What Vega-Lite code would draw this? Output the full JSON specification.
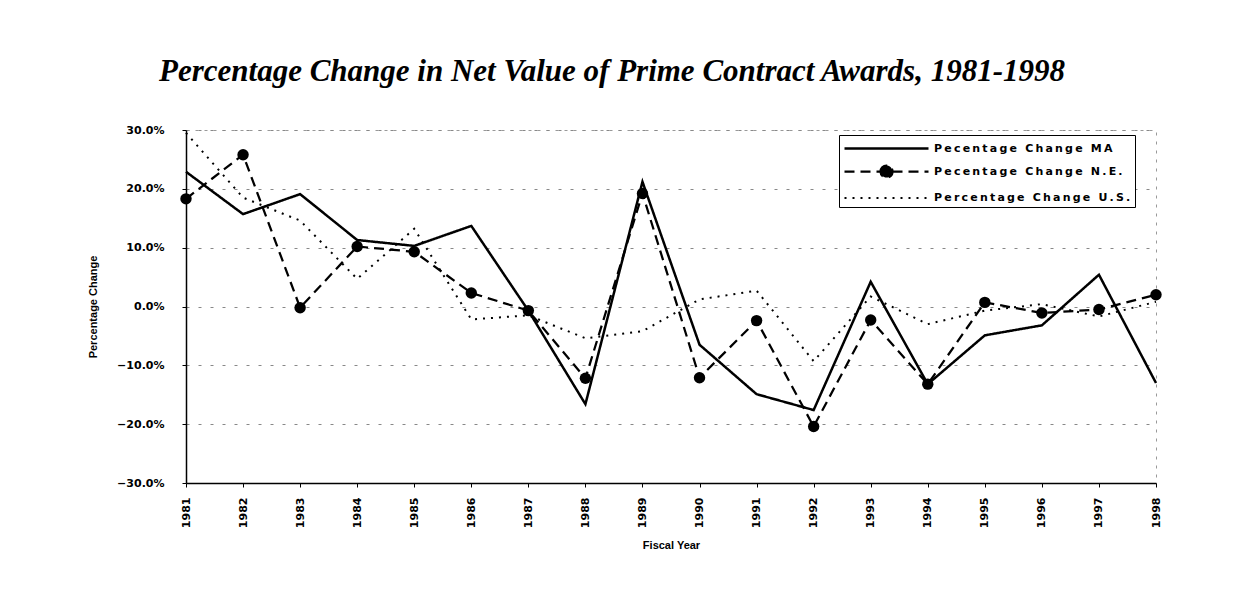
{
  "$schema": "https://vega.github.io/schema/vega-lite/v6.json",
  "width": 970,
  "height": 353,
  "autosize": {"type": "none"},
  "padding": {"left": 186, "top": 130, "right": 82, "bottom": 111},
  "background": "white",
  "title": {
    "text": "Percentage Change in Net Value of Prime Contract Awards, 1981-1998",
    "font": "Liberation Serif",
    "fontSize": 31,
    "fontWeight": "bold",
    "fontStyle": "italic",
    "color": "black",
    "anchor": "middle",
    "frame": "group",
    "dx": -59,
    "offset": 36
  },
  "config": {
    "view": {"stroke": "#999999", "strokeDash": [3, 6], "strokeWidth": 1},
    "axis": {
      "domainColor": "black",
      "domainWidth": 1.5,
      "tickColor": "black",
      "labelColor": "black",
      "titleColor": "black",
      "labelFont": "DejaVu Sans",
      "labelFontWeight": "bold",
      "labelFontSize": 11,
      "titleFont": "Liberation Sans",
      "titleFontWeight": "bold",
      "titleFontSize": 11
    }
  },
  "data": {
    "values": [
      {"year": 1981, "series": "Pecentage Change MA", "value": 22.9},
      {"year": 1982, "series": "Pecentage Change MA", "value": 15.7},
      {"year": 1983, "series": "Pecentage Change MA", "value": 19.1},
      {"year": 1984, "series": "Pecentage Change MA", "value": 11.3},
      {"year": 1985, "series": "Pecentage Change MA", "value": 10.3},
      {"year": 1986, "series": "Pecentage Change MA", "value": 13.7},
      {"year": 1987, "series": "Pecentage Change MA", "value": -0.7},
      {"year": 1988, "series": "Pecentage Change MA", "value": -16.6},
      {"year": 1989, "series": "Pecentage Change MA", "value": 21.2},
      {"year": 1990, "series": "Pecentage Change MA", "value": -6.5},
      {"year": 1991, "series": "Pecentage Change MA", "value": -14.9},
      {"year": 1992, "series": "Pecentage Change MA", "value": -17.6},
      {"year": 1993, "series": "Pecentage Change MA", "value": 4.2},
      {"year": 1994, "series": "Pecentage Change MA", "value": -13.2},
      {"year": 1995, "series": "Pecentage Change MA", "value": -4.9},
      {"year": 1996, "series": "Pecentage Change MA", "value": -3.2},
      {"year": 1997, "series": "Pecentage Change MA", "value": 5.4},
      {"year": 1998, "series": "Pecentage Change MA", "value": -13.0},
      {"year": 1981, "series": "Pecentage Change N.E.", "value": 18.3},
      {"year": 1982, "series": "Pecentage Change N.E.", "value": 25.8},
      {"year": 1983, "series": "Pecentage Change N.E.", "value": -0.2},
      {"year": 1984, "series": "Pecentage Change N.E.", "value": 10.2},
      {"year": 1985, "series": "Pecentage Change N.E.", "value": 9.3},
      {"year": 1986, "series": "Pecentage Change N.E.", "value": 2.3},
      {"year": 1987, "series": "Pecentage Change N.E.", "value": -0.7},
      {"year": 1988, "series": "Pecentage Change N.E.", "value": -12.2},
      {"year": 1989, "series": "Pecentage Change N.E.", "value": 19.2},
      {"year": 1990, "series": "Pecentage Change N.E.", "value": -12.1},
      {"year": 1991, "series": "Pecentage Change N.E.", "value": -2.4},
      {"year": 1992, "series": "Pecentage Change N.E.", "value": -20.4},
      {"year": 1993, "series": "Pecentage Change N.E.", "value": -2.3},
      {"year": 1994, "series": "Pecentage Change N.E.", "value": -13.2},
      {"year": 1995, "series": "Pecentage Change N.E.", "value": 0.7},
      {"year": 1996, "series": "Pecentage Change N.E.", "value": -1.1},
      {"year": 1997, "series": "Pecentage Change N.E.", "value": -0.5},
      {"year": 1998, "series": "Pecentage Change N.E.", "value": 2.0},
      {"year": 1981, "series": "Percentage Change U.S.", "value": 29.5},
      {"year": 1982, "series": "Percentage Change U.S.", "value": 18.5},
      {"year": 1983, "series": "Percentage Change U.S.", "value": 14.6},
      {"year": 1984, "series": "Percentage Change U.S.", "value": 4.7},
      {"year": 1985, "series": "Percentage Change U.S.", "value": 13.2},
      {"year": 1986, "series": "Percentage Change U.S.", "value": -2.2},
      {"year": 1987, "series": "Percentage Change U.S.", "value": -1.5},
      {"year": 1988, "series": "Percentage Change U.S.", "value": -5.4},
      {"year": 1989, "series": "Percentage Change U.S.", "value": -4.2},
      {"year": 1990, "series": "Percentage Change U.S.", "value": 1.2},
      {"year": 1991, "series": "Percentage Change U.S.", "value": 2.7},
      {"year": 1992, "series": "Percentage Change U.S.", "value": -9.3},
      {"year": 1993, "series": "Percentage Change U.S.", "value": 1.7},
      {"year": 1994, "series": "Percentage Change U.S.", "value": -3.0},
      {"year": 1995, "series": "Percentage Change U.S.", "value": -0.7},
      {"year": 1996, "series": "Percentage Change U.S.", "value": 0.4},
      {"year": 1997, "series": "Percentage Change U.S.", "value": -1.7},
      {"year": 1998, "series": "Percentage Change U.S.", "value": 0.8}
    ]
  },
  "encoding": {
    "x": {
      "field": "year",
      "type": "quantitative",
      "scale": {"domain": [1981, 1998], "nice": false, "zero": false},
      "axis": {
        "title": "Fiscal Year",
        "values": [1981, 1982, 1983, 1984, 1985, 1986, 1987, 1988, 1989, 1990, 1991, 1992, 1993, 1994, 1995, 1996, 1997, 1998],
        "format": "d",
        "labelAngle": -90,
        "labelAlign": "right",
        "labelBaseline": "middle",
        "labelPadding": 10,
        "tickSize": 4,
        "grid": false,
        "labelFlush": false,
        "labelOverlap": false,
        "titlePadding": 12
      }
    },
    "y": {
      "field": "value",
      "type": "quantitative",
      "scale": {"domain": [-30, 30], "nice": false},
      "axis": {
        "title": "Percentage Change",
        "values": [-30, -20, -10, 0, 10, 20, 30],
        "labelExpr": "format(datum.value, '.1f') + '%'",
        "labelPadding": 18,
        "tickSize": 4,
        "grid": true,
        "gridColor": "#888888",
        "gridDash": [3, 9],
        "gridWidth": 1,
        "titlePadding": 18,
        "labelFlush": false
      }
    }
  },
  "layer": [
    {
      "mark": {"type": "line", "color": "black"},
      "encoding": {
        "strokeDash": {
          "field": "series",
          "type": "nominal",
          "scale": {
            "domain": ["Pecentage Change MA", "Pecentage Change N.E.", "Percentage Change U.S."],
            "range": [[1, 0], [10, 6], [2, 6]]
          },
          "legend": {
            "title": null,
            "orient": "none",
            "legendX": 653,
            "legendY": 5,
            "direction": "vertical",
            "strokeColor": "black",
            "fillColor": "white",
            "padding": 4,
            "symbolType": "stroke",
            "symbolSize": 256,
            "symbolStrokeWidth": 2,
            "symbolStrokeColor": "black",
            "labelFont": "DejaVu Sans",
            "labelFontWeight": "bold",
            "labelFontSize": 11,
            "labelColor": "black",
            "labelOffset": 72,
            "rowPadding": 7,
            "labelLimit": 400,
            "labelExpr": "replace(datum.label, regexp('(.)', 'g'), '$1\u2009')",
            "encode": {
              "symbols": {
                "update": {
                  "shape": [
                    {"test": "datum.value === 'Pecentage Change N.E.'", "value": "M-1,0H9.5M3.5,0A0.75,0.75,0,1,1,5,0A0.75,0.75,0,1,1,3.5,0Z"},
                    {"value": "M-1,0H9.5"}
                  ],
                  "fill": [
                    {"test": "datum.value === 'Pecentage Change N.E.'", "value": "black"},
                    {"value": "transparent"}
                  ],
                  "stroke": {"value": "black"},
                  "strokeWidth": {"value": 2}
                }
              }
            }
          }
        },
        "strokeWidth": {
          "field": "series",
          "type": "nominal",
          "scale": {
            "domain": ["Pecentage Change MA", "Pecentage Change N.E.", "Percentage Change U.S."],
            "range": [2.5, 2, 2.2]
          },
          "legend": null
        }
      }
    },
    {
      "transform": [{"filter": "datum.series === 'Pecentage Change N.E.'"}],
      "mark": {"type": "circle", "color": "black", "opacity": 1, "size": 130}
    }
  ]
}
